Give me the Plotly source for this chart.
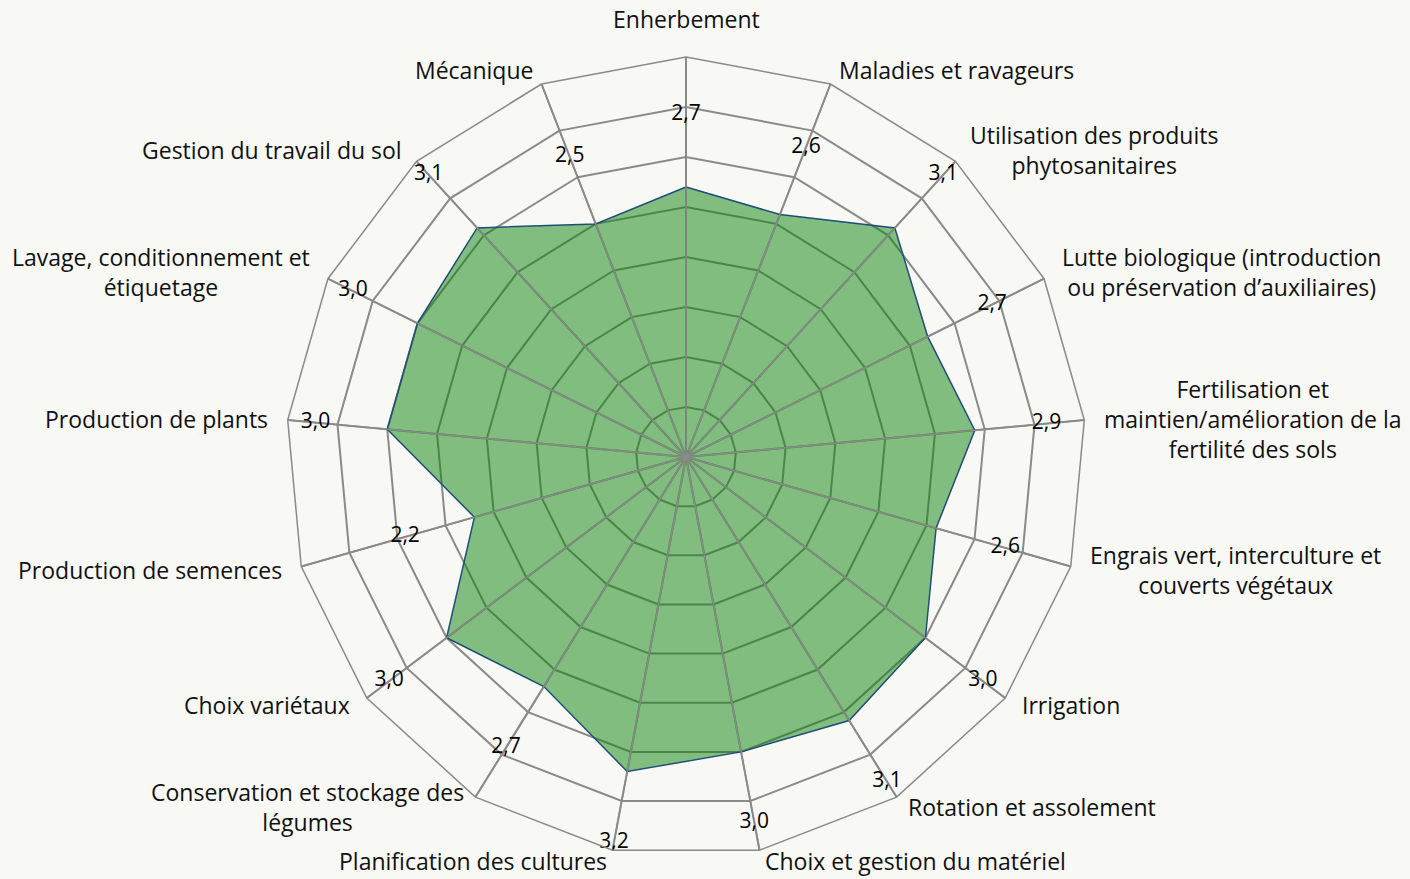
import math
import plotly.graph_objects as go

categories = [
    "Enherbement", "Maladies et ravageurs", "Utilisation des produits phytosanitaires",
    "Lutte biologique", "Fertilisation", "Engrais vert", "Irrigation",
    "Rotation et assolement", "Choix et gestion du matériel", "Planification des cultures",
    "Conservation et stockage des légumes", "Choix variétaux", "Production de semences",
    "Production de plants", "Lavage, conditionnement et étiquetage",
    "Gestion du travail du sol", "Mécanique",
]
category_labels = [
    "Enherbement", "Maladies et ravageurs", "Utilisation des produits<br>phytosanitaires",
    "Lutte biologique (introduction<br>ou préservation d’auxiliaires)",
    "Fertilisation et<br>maintien/amélioration de la<br>fertilité des sols",
    "Engrais vert, interculture et<br>couverts végétaux", "Irrigation",
    "Rotation et assolement", "Choix et gestion du matériel", "Planification des cultures",
    "Conservation et stockage des<br>légumes", "Choix variétaux", "Production de semences",
    "Production de plants", "Lavage, conditionnement et<br>étiquetage",
    "Gestion du travail du sol", "Mécanique",
]
values = [2.7, 2.6, 3.1, 2.7, 2.9, 2.6, 3.0, 3.1, 3.0, 3.2, 2.7, 3.0, 2.2, 3.0, 3.0, 3.1, 2.5]
value_text = [f"{v:.1f}".replace(".", ",") for v in values]

W, H = 1410, 879
CX, CY, R = 686, 457, 400
RMAX = 4
GRID = "#8a8a8a"
BG = "#f8f8f4"
FONT = "Open Sans"

fig = go.Figure()
fig.add_trace(go.Scatterpolar(
    r=values + [values[0]], theta=categories + [categories[0]],
    fill="toself", fillcolor="rgba(10,130,10,0.5)", mode="lines",
    line=dict(color="#1f4e79", width=1.5), hoverinfo="skip",
))
for c in categories:
    fig.add_trace(go.Scatterpolar(
        r=[0, RMAX], theta=[c, c], mode="lines",
        line=dict(color=GRID, width=1.5), hoverinfo="skip",
    ))
fig.add_trace(go.Scatterpolar(
    r=[v + 0.72 for v in values], theta=categories, mode="text", text=value_text,
    textfont=dict(family=FONT, size=21, color="#000000"), cliponaxis=False,
    hoverinfo="skip",
))

n = len(categories)
annotations = []
for i, lab in enumerate(category_labels):
    a = 2 * math.pi * i / n
    s, c = math.sin(a), math.cos(a)
    vx, vy = CX + R * s, CY - R * c
    if abs(s) < 0.05:
        px, py, xa, ya = vx, vy - 20, "center", "bottom"
    else:
        px, py = vx + 18 * s, vy - (15 if c > 0 else 11.5) * c
        xa, ya = ("left" if s > 0 else "right"), "middle"
    annotations.append(dict(
        x=px / W, y=1 - py / H, xref="paper", yref="paper", text=lab,
        showarrow=False, xanchor=xa, yanchor=ya, align="center",
        font=dict(family=FONT, size=23, color="#111111"),
    ))

fig.update_layout(
    width=W, height=H, margin=dict(l=0, r=0, t=0, b=0),
    paper_bgcolor=BG, plot_bgcolor=BG, showlegend=False,
    annotations=annotations,
    polar=dict(
        domain=dict(x=[(CX - R) / W, (CX + R) / W], y=[1 - (CY + R) / H, 1 - (CY - R) / H]),
        bgcolor="rgba(0,0,0,0)", gridshape="linear",
        radialaxis=dict(range=[0, RMAX], dtick=0.5, tick0=0, showticklabels=False, ticks="",
                        showline=False, gridcolor=GRID, gridwidth=1.5),
        angularaxis=dict(rotation=90, direction="clockwise", showticklabels=False, ticks="",
                         gridcolor=GRID, gridwidth=1.5, showline=True, linecolor=GRID,
                         linewidth=1.5),
    ),
)
fig.write_html(
    "out.html",
    config={"displayModeBar": False},
    post_script=("document.body.style.margin='0';document.body.style.padding='0';"
                 "document.body.style.overflow='hidden';"
                 "document.body.style.background='" + BG + "';"),
)
